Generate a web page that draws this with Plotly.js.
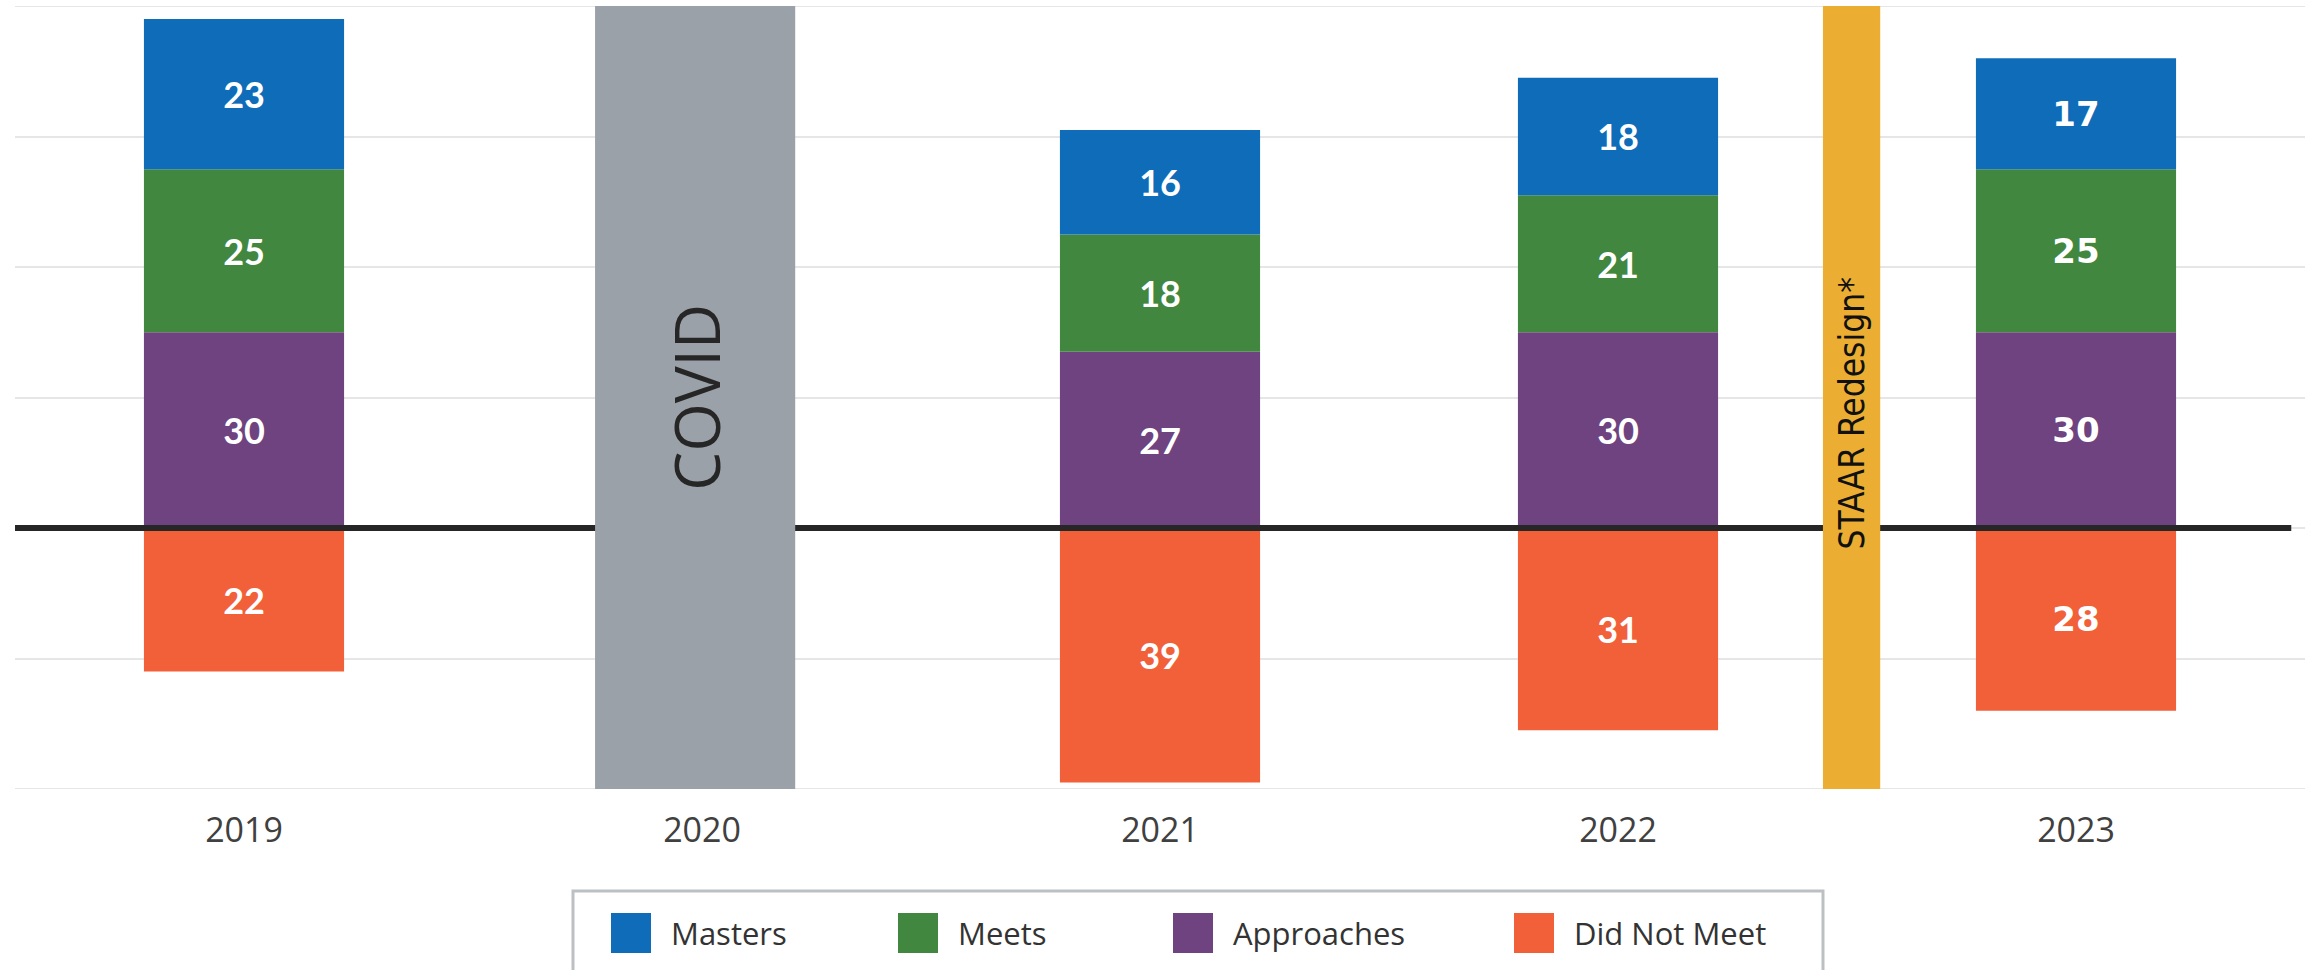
<!DOCTYPE html>
<html>
<head>
<meta charset="utf-8">
<script src="https://cdn.plot.ly/plotly-3.0.1.min.js"></script>
<style>
  html, body { margin: 0; padding: 0; background: #fff; }
  #chart { width: 2305px; height: 970px; }
</style>
</head>
<body>
<div id="chart"></div>
<script>
// Chart data
const years = ['2019', '2020', '2021', '2022', '2023'];
const masters = [23, null, 16, 18, 17];
const meets = [25, null, 18, 21, 25];
const approaches = [30, null, 27, 30, 30];
const didNotMeet = [22, null, 39, 31, 28];
const seriesNames = ['Masters', 'Meets', 'Approaches', 'Did Not Meet'];
const seriesColors = ['#0e6cb8', '#428740', '#6f4280', '#f2603a'];
const eventLabels = ['COVID', 'STAAR Redesign*'];
const eventPos = [0.985, 3.51];
const eventColors = ['#9aa1a8', '#ebae33'];

const yMin = -40, yMax = 80;
const xIdx = years.map((y, i) => i);

// page pixel -> paper coords
const W = 2305, H = 970, L = 15, R = 0, T = 6, B = 181;
function px(x) { return (x - L) / (W - L - R); }
function py(y) { return (H - B - y) / (H - T - B); }

// label fonts: the 2023 column uses a wider face in the original
const labelFamily = years.map(y => y === '2023' ? 'DejaVu Sans' : 'Lato');
const labelSize = years.map(y => y === '2023' ? 34 : 36);

function stackTrace(vals, name, color, negative) {
  return {
    type: 'bar',
    x: xIdx,
    y: vals.map(v => v === null ? null : (negative ? -v : v)),
    text: vals.map(v => v === null ? '' : String(v)),
    name: name,
    width: 0.437,
    marker: { color: color, line: { width: 0 } },
    textposition: 'inside',
    insidetextanchor: 'middle',
    textangle: 0,
    constraintext: 'none',
    textfont: { color: '#ffffff', family: labelFamily, size: labelSize, weight: 'bold' },
    showlegend: false,
    hoverinfo: 'skip'
  };
}

const data = [
  stackTrace(approaches, seriesNames[2], seriesColors[2], false),
  stackTrace(meets, seriesNames[1], seriesColors[1], false),
  stackTrace(masters, seriesNames[0], seriesColors[0], false),
  stackTrace(didNotMeet, seriesNames[3], seriesColors[3], true),
  // zero reference line drawn over the stacked bars
  {
    type: 'scatter', mode: 'lines',
    x: [-0.52, 4.47], y: [0, 0],
    line: { color: '#262626', width: 6 },
    showlegend: false, hoverinfo: 'skip'
  },
  // full-height event bands on an overlay so they cover the zero line
  {
    type: 'bar',
    x: eventPos,
    y: eventPos.map(() => yMax - yMin),
    base: yMin,
    width: [0.437, 0.125],
    marker: { color: eventColors, line: { width: 0 } },
    xaxis: 'x2', yaxis: 'y2',
    showlegend: false, hoverinfo: 'skip'
  }
];

const shapes = [];
const annotations = [];

// gridlines at the range ends (plotly skips them at the edges)
[yMin, yMax].forEach(v => {
  shapes.push({
    type: 'line', xref: 'paper', yref: 'y', layer: 'below',
    x0: 0, x1: 1, y0: v, y1: v,
    line: { color: '#e6e6e6', width: 2 }
  });
});

// event labels
annotations.push({
  x: eventPos[0], y: 20, xref: 'x', yref: 'y',
  text: eventLabels[0], textangle: -90, showarrow: false,
  font: { family: 'Open Sans', size: 62, color: '#262626' }
});
annotations.push({
  x: eventPos[1], y: 17.5, xref: 'x', yref: 'y',
  text: eventLabels[1], textangle: -90, showarrow: false,
  font: { family: 'Liberation Sans Narrow, DejaVu Sans Condensed, Open Sans', size: 35, color: '#111111' }
});

// legend box
shapes.push({
  type: 'rect', xref: 'paper', yref: 'paper',
  x0: px(573), x1: px(1823), y0: py(891), y1: py(975),
  line: { color: '#bcc0c3', width: 3 }, fillcolor: 'rgba(0,0,0,0)'
});
const swatchLeft = [611, 898, 1173, 1514];
seriesNames.forEach((name, i) => {
  shapes.push({
    type: 'rect', xref: 'paper', yref: 'paper',
    x0: px(swatchLeft[i]), x1: px(swatchLeft[i] + 40),
    y0: py(953), y1: py(913),
    line: { width: 0 }, fillcolor: seriesColors[i]
  });
  annotations.push({
    x: px(swatchLeft[i] + 58), y: py(933), xref: 'paper', yref: 'paper',
    xanchor: 'left', yanchor: 'middle', showarrow: false,
    text: name,
    font: { family: 'Open Sans', size: 31, color: '#333333' }
  });
});

const layout = {
  width: W, height: H,
  margin: { l: L, r: R, t: T, b: B },
  paper_bgcolor: '#ffffff',
  plot_bgcolor: '#ffffff',
  barmode: 'relative',
  showlegend: false,
  xaxis: {
    type: 'linear', range: [-0.5, 4.5],
    tickvals: xIdx, ticktext: years,
    showgrid: false, zeroline: false, showline: false, ticks: '',
    ticklabelstandoff: 18,
    tickfont: { family: 'Open Sans', size: 34, color: '#404040' }
  },
  yaxis: {
    range: [yMin, yMax], dtick: 20,
    showgrid: true, gridcolor: '#e6e6e6', gridwidth: 2,
    zeroline: false, showticklabels: false, ticks: ''
  },
  xaxis2: { overlaying: 'x', matches: 'x', visible: false },
  yaxis2: { overlaying: 'y', matches: 'y', visible: false },
  shapes: shapes,
  annotations: annotations
};

Plotly.newPlot('chart', data, layout, { staticPlot: true });
</script>
</body>
</html>
